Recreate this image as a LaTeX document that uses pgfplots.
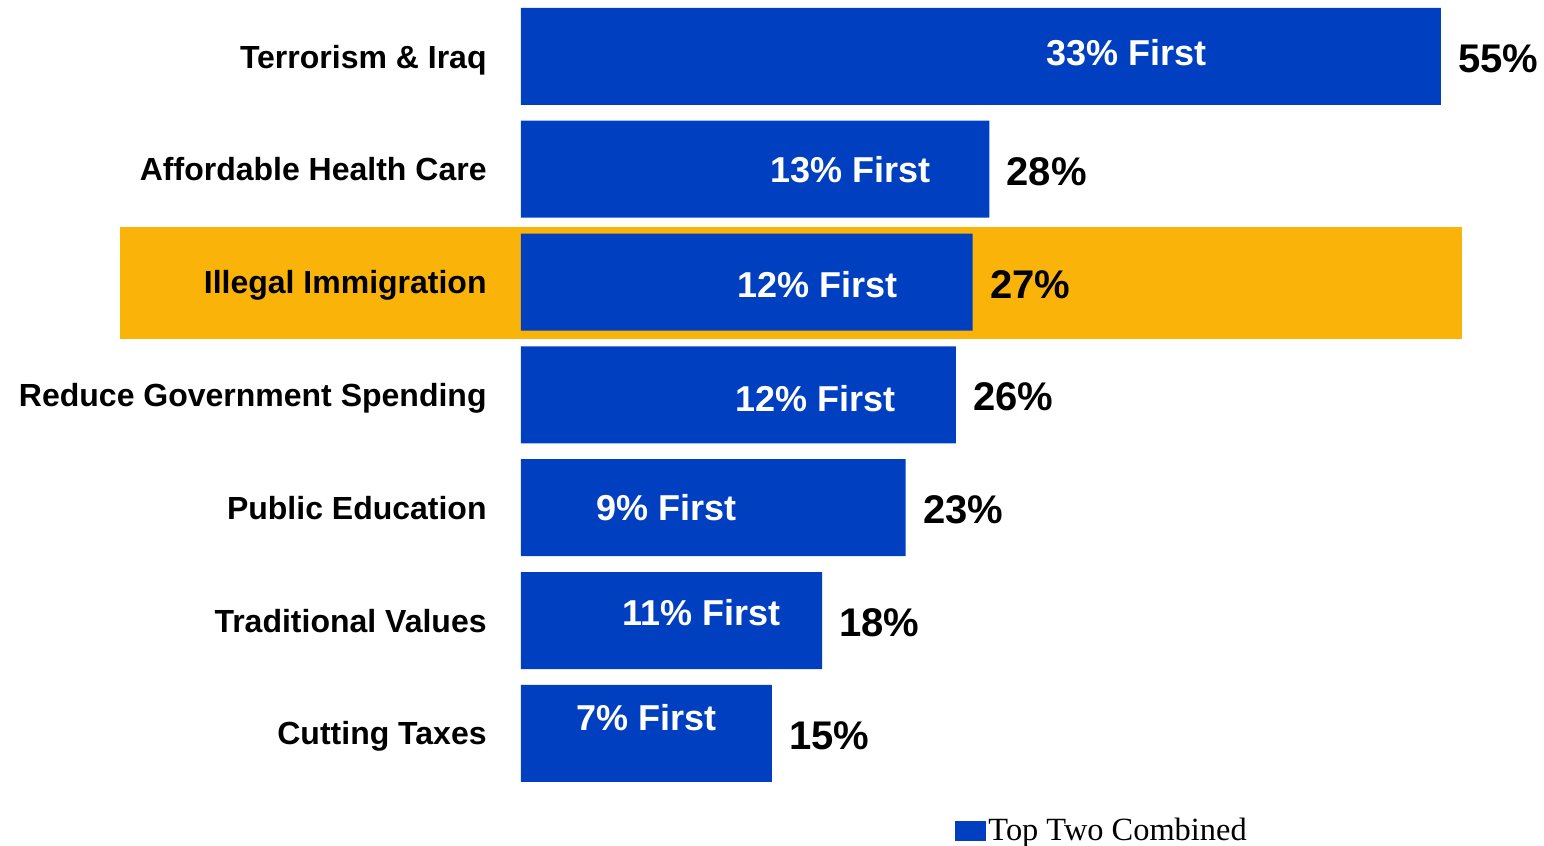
\documentclass[border=0pt]{standalone}
\usepackage{pgfplots}
\pgfplotsset{compat=1.18}
\usepackage{fontspec}
\setmainfont{Liberation Sans}
\newfontfamily\seriffont{Liberation Serif}
\definecolor{barblue}{HTML}{0040C0}
\definecolor{hlorange}{HTML}{FAB308}
\begin{document}
\begin{tikzpicture}
\begin{axis}[
  at={(0,0)}, anchor=south west,
  scale only axis,
  width=460pt, height=394.9pt,
  xmin=0, xmax=55,
  ymin=-0.5, ymax=6.5,
  clip=false,
  set layers,
  /pgf/number format/assume math mode=true,
  axis line style={draw=none},
  major tick length=0pt,
  xtick=\empty,
  ytick={0,1,2,3,4,5,6},
  yticklabels={Cutting Taxes,Traditional Values,Public Education,Reduce Government Spending,Illegal Immigration,Affordable Health Care,Terrorism \& Iraq},
  yticklabel style={font=\fontsize{16}{19}\selectfont\bfseries, anchor=base east, inner sep=0pt, xshift=-17pt, yshift=-5.8pt},
  xbar, bar width=48.5pt,
  nodes near coords={\pgfmathprintnumber{\pgfplotspointmeta}\%},
  nodes near coords style={font=\fontsize{20}{24}\selectfont\bfseries, anchor=base west, inner sep=0pt, xshift=8.5pt, yshift=-8pt},
  legend style={at={(axis cs:25.95,-0.864)}, anchor=west, draw=none, fill=none, inner sep=0pt,
    font=\seriffont\fontsize{16.2}{19}\selectfont, nodes={inner sep=1pt}},
  legend image code/.code={\fill[#1] (0pt,-5pt) rectangle (15.5pt,5pt);},
]
\begin{pgfonlayer}{axis background}
\fill[hlorange] (axis cs:-23.97,3.497) rectangle (axis cs:56.26,4.489);
\end{pgfonlayer}
\addplot[fill=barblue, draw=none] coordinates {
  (15,0) (18,1) (23,2) (26,3) (27,4) (28,5) (55,6)
};
\addlegendentry{Top Two Combined}
\node[font=\fontsize{18}{22}\selectfont\bfseries, text=white, anchor=base, inner sep=0pt, yshift=-6.4pt] at (axis cs:36.2,6.03) {33\% First};
\node[font=\fontsize{18}{22}\selectfont\bfseries, text=white, anchor=base, inner sep=0pt, yshift=-6.4pt] at (axis cs:19.7,5.0) {13\% First};
\node[font=\fontsize{18}{22}\selectfont\bfseries, text=white, anchor=base, inner sep=0pt, yshift=-6.4pt] at (axis cs:17.7,3.98) {12\% First};
\node[font=\fontsize{18}{22}\selectfont\bfseries, text=white, anchor=base, inner sep=0pt, yshift=-6.4pt] at (axis cs:17.6,2.965) {12\% First};
\node[font=\fontsize{18}{22}\selectfont\bfseries, text=white, anchor=base, inner sep=0pt, yshift=-6.4pt] at (axis cs:8.7,2.0) {9\% First};
\node[font=\fontsize{18}{22}\selectfont\bfseries, text=white, anchor=base, inner sep=0pt, yshift=-6.4pt] at (axis cs:10.8,1.07) {11\% First};
\node[font=\fontsize{18}{22}\selectfont\bfseries, text=white, anchor=base, inner sep=0pt, yshift=-6.4pt] at (axis cs:7.5,0.14) {7\% First};
\end{axis}
\path (-260.5pt,-28.05pt) rectangle (511.5pt,394.9pt);
\end{tikzpicture}
\end{document}
